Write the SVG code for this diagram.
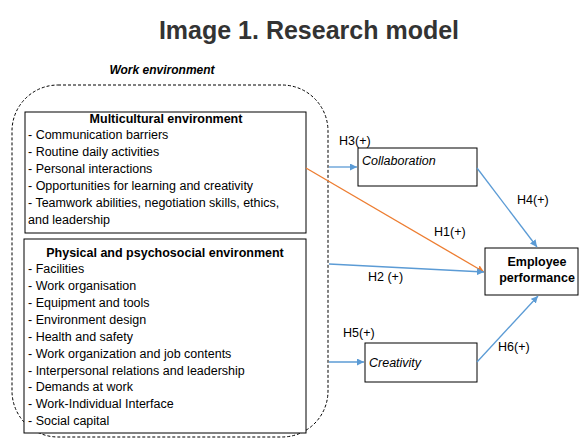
<svg xmlns="http://www.w3.org/2000/svg" width="580" height="439" viewBox="0 0 580 439">
<defs>
<style>
text{font-family:"Liberation Sans",Arial,sans-serif;fill:#000}
.t{font-size:12.5px}
.b{font-weight:bold}
.i{font-style:italic}
.box{fill:#fff;stroke:#000;stroke-width:1}
.blue{stroke:#5B9BD5;stroke-width:1.3;fill:none}
.orange{stroke:#ED7D31;stroke-width:1.3;fill:none}
</style>
<marker id="ab" viewBox="0 0 10 10" refX="10" refY="5" markerWidth="7" markerHeight="7" orient="auto" markerUnits="userSpaceOnUse"><path d="M0,0L10,5L0,10z" fill="#5B9BD5"/></marker>
<marker id="ao" viewBox="0 0 10 10" refX="10" refY="5" markerWidth="7" markerHeight="7" orient="auto" markerUnits="userSpaceOnUse"><path d="M0,0L10,5L0,10z" fill="#ED7D31"/></marker>
</defs>
<rect width="580" height="439" fill="#fff"/>
<text x="309" y="39" text-anchor="middle" class="b" style="font-size:25px;fill:#333">Image 1. Research model</text>
<text x="162" y="74" text-anchor="middle" class="b i" style="font-size:12px">Work environment</text>
<g id="work-environment">
<rect x="12" y="85" width="316" height="352" rx="46" ry="46" fill="none" stroke="#000" stroke-width="1" stroke-dasharray="3,2"/>
</g>
<g id="multicultural">
<rect class="box" x="25" y="112" width="281" height="121"/>
<text x="166" y="123" text-anchor="middle" class="t b">Multicultural environment</text>
<text class="t" x="28" y="139">- Communication barriers</text>
<text class="t" x="28" y="156">- Routine daily activities</text>
<text class="t" x="28" y="173">- Personal interactions</text>
<text class="t" x="28" y="190">- Opportunities for learning and creativity</text>
<text class="t" x="28" y="207">- Teamwork abilities, negotiation skills, ethics,</text>
<text class="t" x="28" y="224">and leadership</text>
</g>
<g id="physical">
<rect class="box" x="24" y="239" width="282" height="194"/>
<text x="165" y="257" text-anchor="middle" class="t b">Physical and psychosocial environment</text>
<text class="t" x="28" y="273">- Facilities</text>
<text class="t" x="28" y="290">- Work organisation</text>
<text class="t" x="28" y="307">- Equipment and tools</text>
<text class="t" x="28" y="324">- Environment design</text>
<text class="t" x="28" y="341">- Health and safety</text>
<text class="t" x="28" y="358">- Work organization and job contents</text>
<text class="t" x="28" y="375">- Interpersonal relations and leadership</text>
<text class="t" x="28" y="391">- Demands at work</text>
<text class="t" x="28" y="408">- Work-Individual Interface</text>
<text class="t" x="28" y="425">- Social capital</text>
</g>
<g id="collaboration">
<rect class="box" x="358" y="148" width="119" height="38"/>
<text class="t i" x="362" y="165">Collaboration</text>
</g>
<g id="creativity">
<rect class="box" x="365" y="343" width="112" height="39"/>
<text class="t i" x="369" y="367">Creativity</text>
</g>
<g id="employee-performance">
<rect class="box" x="485" y="248" width="93" height="47"/>
<text class="t b" x="537" y="266" text-anchor="middle">Employee</text>
<text class="t b" x="537" y="282" text-anchor="middle">performance</text>
</g>
<g id="connectors">
<line class="blue" x1="329" y1="167" x2="357" y2="167" marker-end="url(#ab)"/>
<line class="blue" x1="477" y1="168" x2="537" y2="247" marker-end="url(#ab)"/>
<line class="orange" x1="306" y1="168" x2="484" y2="272" marker-end="url(#ao)"/>
<line class="blue" x1="329" y1="264" x2="484" y2="272" marker-end="url(#ab)"/>
<line class="blue" x1="329" y1="362" x2="364" y2="362" marker-end="url(#ab)"/>
<line class="blue" x1="477" y1="362" x2="538" y2="296" marker-end="url(#ab)"/>
<text class="t" x="339" y="145">H3(+)</text>
<text class="t" x="517" y="204">H4(+)</text>
<text class="t" x="434" y="236">H1(+)</text>
<text class="t" x="368" y="281">H2 (+)</text>
<text class="t" x="343" y="337">H5(+)</text>
<text class="t" x="498" y="351">H6(+)</text>
</g>
</svg>
